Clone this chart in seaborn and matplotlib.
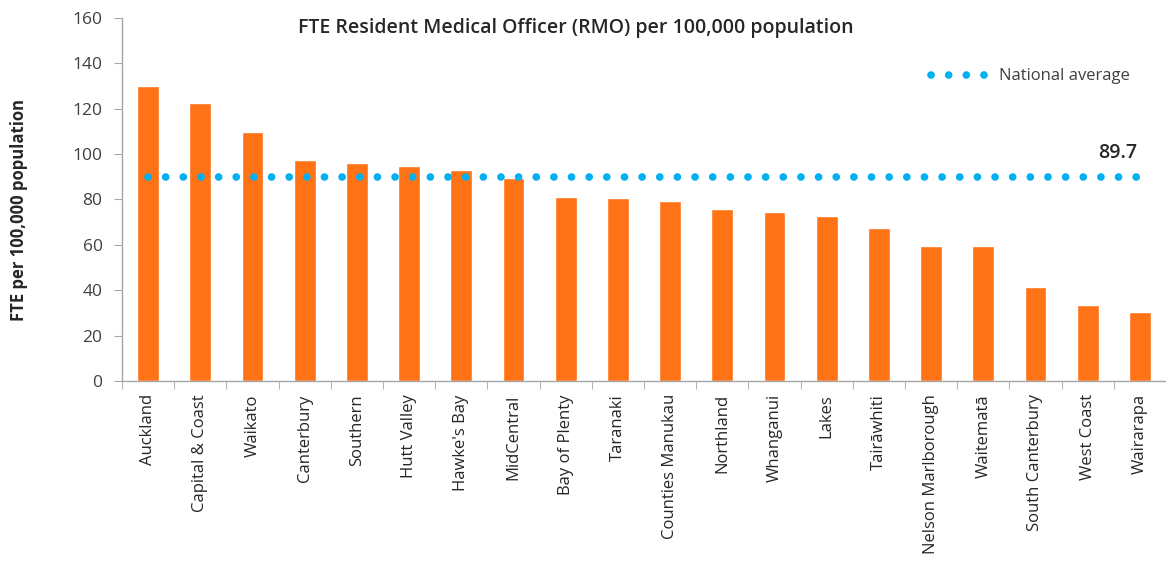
import numpy as np
import pandas as pd
import seaborn as sns
import matplotlib.pyplot as plt

# Datos del grafico
districts = ['Auckland', 'Capital & Coast', 'Waikato', 'Canterbury', 'Southern',
             'Hutt Valley', "Hawke's Bay", 'MidCentral', 'Bay of Plenty', 'Taranaki',
             'Counties Manukau', 'Northland', 'Whanganui', 'Lakes', 'Tairāwhiti',
             'Nelson Marlborough', 'Waitematā', 'South Canterbury', 'West Coast',
             'Wairarapa']
fte_per_100k = [130.0, 122.6, 109.7, 97.4, 96.0, 94.7, 93.0, 89.4, 81.2, 80.6,
                79.3, 75.8, 74.4, 72.7, 67.4, 59.6, 59.5, 41.4, 33.5, 30.5]
national_avg = 89.7

df = pd.DataFrame({'district': districts, 'fte': fte_per_100k})

sns.set_style('white')
plt.rcParams['font.family'] = ['Open Sans', 'DejaVu Sans']

fig = plt.figure(figsize=(11.66, 5.63), dpi=100)
ax = fig.add_axes([0.1046, 0.3233, 0.8954, 0.6447])

# Barras
sns.barplot(data=df, x='district', y='fte', color='#FF7216', saturation=1,
            width=0.42, ax=ax)

# Promedio nacional (linea de puntos)
n = len(districts)
ax.plot(np.arange(n), [national_avg] * n, color='#00B0F0', linewidth=5.5,
        linestyle=(0, (0.01, 2.3)), dash_capstyle='round',
        label='National average')
ax.text(n - 1 - 0.05, national_avg + 6.5, f'{national_avg}', ha='right', va='bottom',
        fontsize=14, fontweight='semibold', color='#262626')

ax.set_xlim(-0.5, n - 0.5)
ax.set_ylim(0, 160)
ax.set_yticks(range(0, 161, 20))

ax.set_xlabel('')
ax.set_ylabel('FTE per 100,000 population', fontsize=12, fontweight='bold',
              color='#262626')
ax.yaxis.set_label_coords(-0.09, 0.47)
ax.tick_params(axis='y', labelsize=12.5, labelcolor='#404040', length=6,
               color='#A6A6A6', left=True, direction='out', pad=8)
ax.tick_params(axis='x', labelsize=12, labelcolor='#262626', rotation=90,
               bottom=False, pad=6)
ax.set_xticks(np.arange(-0.5, n, 1), minor=True)
ax.tick_params(axis='x', which='minor', bottom=True, length=6, color='#A6A6A6')

for side in ['top', 'right']:
    ax.spines[side].set_visible(False)
for side in ['left', 'bottom']:
    ax.spines[side].set_color('#A6A6A6')
    ax.spines[side].set_linewidth(1)

fig.text(0.494, 0.950, 'FTE Resident Medical Officer (RMO) per 100,000 population',
         ha='center', va='center', fontsize=14, fontweight='semibold',
         color='#262626')

leg = ax.legend(loc='upper right', bbox_to_anchor=(0.982, 0.905),
                bbox_transform=fig.transFigure, frameon=False, fontsize=12,
                handlelength=3.4, handletextpad=0.7)
for t in leg.get_texts():
    t.set_color('#404040')

fig.savefig('out.png', dpi=100)
